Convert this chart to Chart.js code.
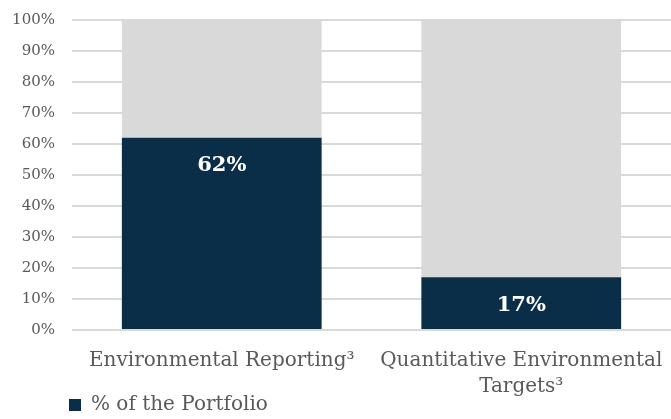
<!DOCTYPE html>
<html>
<head>
<meta charset="utf-8">
<script src="https://cdn.jsdelivr.net/npm/chart.js@4"></script>
<style>
  html, body { margin: 0; padding: 0; background: #ffffff; }
  #wrap { width: 671px; height: 419px; }
</style>
</head>
<body>
<div id="wrap"><canvas id="chart"></canvas></div>
<script>
const categories = [["Environmental Reporting\u00b3"], ["Quantitative Environmental", "Targets\u00b3"]];
const portfolioValues = [62, 17];
const remainderValues = [38, 83];
const yTicks = [0, 10, 20, 30, 40, 50, 60, 70, 80, 90, 100];

const serif = "'DejaVu Serif', Georgia, serif";

// draws the value labels near the top inside the dark bars
const barLabels = {
    id: "barLabels",
    afterDatasetsDraw(chart) {
        const ctx = chart.ctx;
        const meta = chart.getDatasetMeta(0);
        ctx.save();
        ctx.fillStyle = "#ffffff";
        ctx.font = "bold 21px " + serif;
        ctx.textAlign = "center";
        ctx.textBaseline = "middle";
        meta.data.forEach((bar, i) => {
            ctx.fillText(portfolioValues[i] + "%", bar.x, bar.y + 28);
        });
        ctx.restore();
    }
};

// nudges the legend to sit under the plot like the original
const legendShift = {
    id: "legendShift",
    afterLayout(chart) {
        chart.legend.left += 69;
        chart.legend.top -= 3;
    }
};

new Chart(document.getElementById("chart").getContext("2d"), {
    type: "bar",
    data: {
        labels: categories,
        datasets: [{
            label: "% of the Portfolio",
            data: portfolioValues,
            backgroundColor: "#0b2e48",
            categoryPercentage: 1,
            barPercentage: 0.667
        }, {
            label: "rest",
            data: remainderValues,
            backgroundColor: "#d9d9d9",
            categoryPercentage: 1,
            barPercentage: 0.667
        }]
    },
    options: {
        responsive: true,
        maintainAspectRatio: false,
        animation: false,
        layout: { padding: { left: 0, right: 0, top: 20, bottom: 0 } },
        plugins: {
            tooltip: { enabled: false },
            legend: {
                position: "bottom",
                align: "start",
                maxHeight: 21,
                labels: {
                    filter: item => item.datasetIndex === 0,
                    boxWidth: 12,
                    boxHeight: 12,
                    padding: 0,
                    color: "#595959",
                    font: { family: serif, size: 20 }
                }
            }
        },
        scales: {
            x: {
                stacked: true,
                grid: { display: false },
                border: { display: false },
                afterFit: axis => {
                    axis.height = 68;
                    axis.paddingLeft = 0;
                    axis.paddingRight = 0;
                },
                ticks: {
                    color: "#595959",
                    font: { family: serif, size: 20, lineHeight: 1.3 },
                    maxRotation: 0,
                    autoSkip: false,
                    padding: 10
                }
            },
            y: {
                stacked: true,
                min: 0,
                max: 100,
                afterBuildTicks: axis => { axis.ticks = yTicks.map(v => ({ value: v })); },
                afterFit: axis => {
                    axis.width = 72;
                    axis.paddingTop = 0;
                    axis.paddingBottom = 0;
                },
                grid: { color: "#d9d9d9", lineWidth: 2, drawTicks: false },
                border: { display: false },
                ticks: {
                    color: "#595959",
                    font: { family: serif, size: 15 },
                    padding: 17,
                    callback: v => v + "%"
                }
            }
        }
    },
    plugins: [barLabels, legendShift]
});
</script>
</body>
</html>
